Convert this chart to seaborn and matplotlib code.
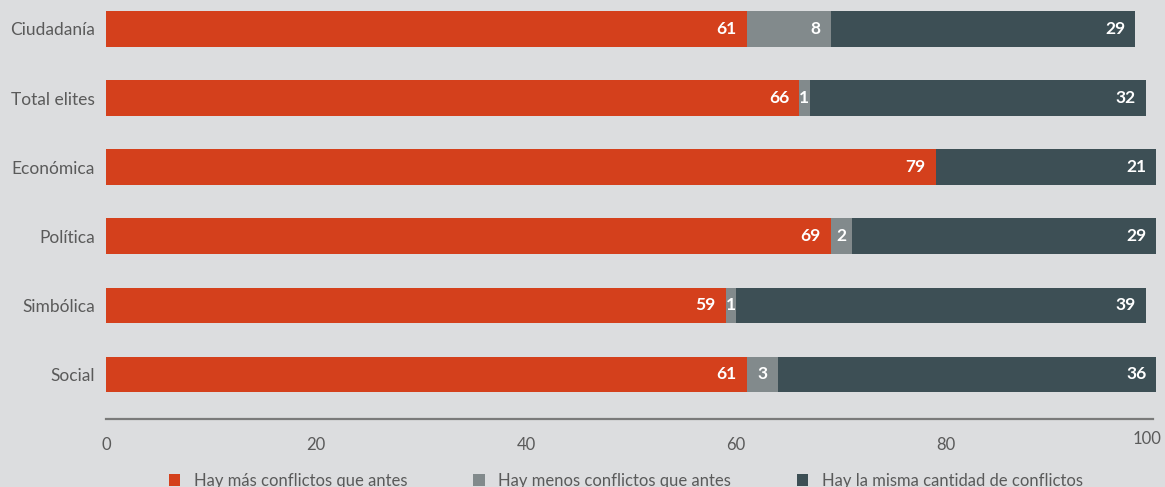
import matplotlib
matplotlib.use("Agg")
import matplotlib.pyplot as plt
import matplotlib.transforms as mtransforms
import seaborn as sns
import pandas as pd
from matplotlib.patches import Patch

# Survey results (%)
categorias = ["Ciudadanía", "Total elites", "Económica", "Política", "Simbólica", "Social"]
mas_conflictos = [61, 66, 79, 69, 59, 61]
menos_conflictos = [8, 1, 0, 2, 1, 3]
misma_cantidad = [29, 32, 21, 29, 39, 36]

series_names = [
    "Hay más conflictos que antes",
    "Hay menos conflictos que antes",
    "Hay la misma cantidad de conflictos",
]
colores = ["#d4401c", "#828a8c", "#3d4f55"]
bg = "#dcdddf"
text_grey = "#5a5a5a"

sns.set_theme(style="white")
plt.rcParams["font.family"] = ["Lato", "DejaVu Sans"]

df = pd.DataFrame({
    "categoria": categorias,
    "mas": mas_conflictos,
    "menos": menos_conflictos,
    "misma": misma_cantidad,
})
df["c1"] = df["mas"]
df["c2"] = df["mas"] + df["menos"]
df["c3"] = df["c2"] + df["misma"]

fig = plt.figure(figsize=(11.65, 4.87), dpi=100, facecolor=bg)
ax = fig.add_axes([106 / 1165, 68 / 487, (1156 - 106) / 1165, 1 - 68 / 487])
ax.set_facecolor(bg)

# stacked bars: draw cumulative totals from the back to the front
for col, color in zip(["c3", "c2", "c1"], colores[::-1]):
    sns.barplot(data=df, x=col, y="categoria", order=categorias, color=color,
                width=0.51, linewidth=0, saturation=1, ax=ax)

# value labels
for i, row in df.iterrows():
    starts = [0, row["c1"], row["c2"]]
    vals = [row["mas"], row["menos"], row["misma"]]
    for s, v in zip(starts, vals):
        if v <= 0:
            continue
        if v <= 4:
            ax.text(s + v / 2, i, f"{v}", ha="center", va="center",
                    color="white", fontsize=12.5, fontweight="bold")
        else:
            ax.annotate(f"{v}", xy=(s + v, i), xytext=(-7, 0),
                        textcoords="offset points", ha="right", va="center",
                        color="white", fontsize=12.5, fontweight="bold")

ax.set_xlim(0, 100)
ax.set_ylim(5.65, -0.42)
ax.set_xticks([0, 20, 40, 60, 80, 100])
ax.set_xlabel("")
ax.set_ylabel("")
for side in ["top", "right", "left"]:
    ax.spines[side].set_visible(False)
ax.spines["bottom"].set_color("#7a7a7a")
ax.spines["bottom"].set_linewidth(1.6)
ax.spines["bottom"].set_bounds(0, 99.7)
ax.tick_params(axis="x", length=0, pad=13, labelsize=12, labelcolor=text_grey)
ax.tick_params(axis="y", length=0, pad=8, labelsize=12.5, labelcolor=text_grey)

# the last x tick label sits a little higher and to the left
fig.canvas.draw()
last = ax.get_xticklabels()[-1]
last.set_transform(last.get_transform() +
                   mtransforms.ScaledTranslation(-9 / 100, 6 / 100, fig.dpi_scale_trans))

handles = [Patch(facecolor=c, edgecolor="none") for c in colores]
fig.legend(handles, series_names, loc="center", bbox_to_anchor=(0.537, 0.012),
           ncol=3, frameon=False, fontsize=12, labelcolor=text_grey,
           handlelength=0.7, handleheight=0.7, handletextpad=0.8,
           columnspacing=3.95)

fig.savefig("out.png", dpi=100, facecolor=bg)
